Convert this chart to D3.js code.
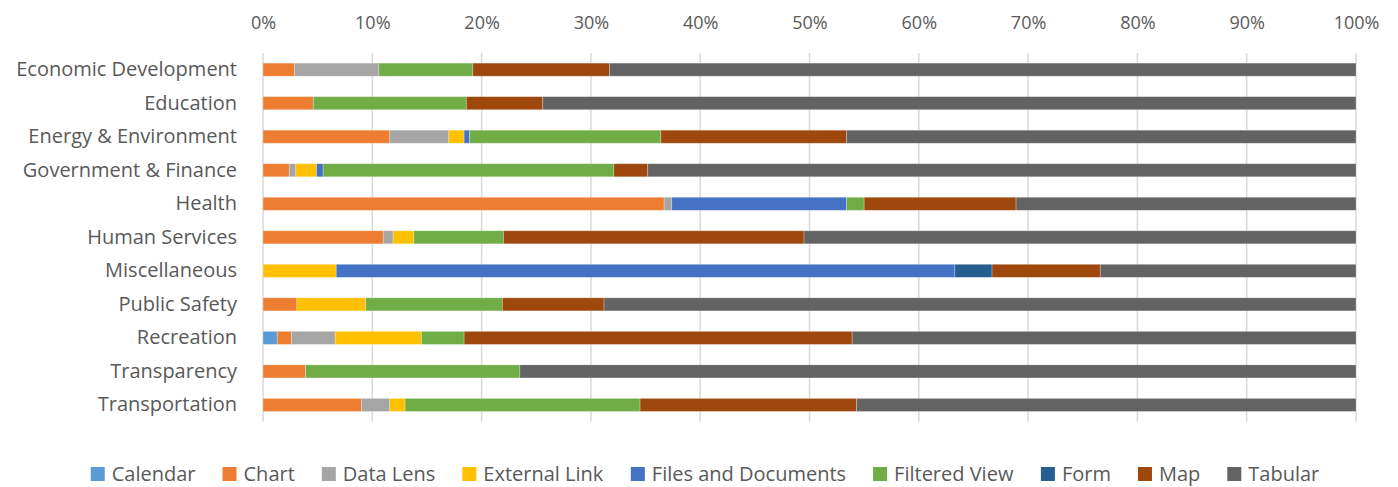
<!DOCTYPE html>
<html>
<head>
<meta charset="utf-8">
<script src="https://cdn.jsdelivr.net/npm/d3@7"></script>
<style>
  body { margin: 0; background: #fff; }
  text { font-family: "Open Sans", sans-serif; fill: #595959; }
</style>
</head>
<body>
<script>
var categories = ["Economic Development", "Education", "Energy & Environment", "Government & Finance",
  "Health", "Human Services", "Miscellaneous", "Public Safety", "Recreation", "Transparency", "Transportation"];

var seriesNames = ["Calendar", "Chart", "Data Lens", "External Link", "Files and Documents",
  "Filtered View", "Form", "Map", "Tabular"];
var seriesColors = ["#5B9BD5", "#ED7D31", "#A5A5A5", "#FFC000", "#4472C4", "#70AD47", "#255E91", "#9E480E", "#636363"];

// percent of each category
var calendar     = [0, 0, 0, 0, 0, 0, 0, 0, 1.3, 0, 0];
var chart        = [2.9, 4.6, 11.6, 2.4, 36.7, 11.0, 0, 3.1, 1.3, 3.9, 9.0];
var dataLens     = [7.7, 0, 5.4, 0.6, 0.7, 0.9, 0, 0, 4.0, 0, 2.6];
var externalLink = [0, 0, 1.4, 1.9, 0, 1.9, 6.7, 6.3, 7.9, 0, 1.4];
var filesDocs    = [0, 0, 0.5, 0.6, 16.0, 0, 56.6, 0, 0, 0, 0];
var filteredView = [8.6, 14.0, 17.5, 26.6, 1.6, 8.2, 0, 12.5, 3.9, 19.6, 21.5];
var form         = [0, 0, 0, 0, 0, 0, 3.4, 0, 0, 0, 0];
var map          = [12.5, 7.0, 17.0, 3.1, 13.9, 27.5, 9.9, 9.3, 35.5, 0, 19.8];
var tabular      = [68.3, 74.4, 46.6, 64.8, 31.1, 50.5, 23.4, 68.8, 46.1, 76.5, 45.7];

var tickValues = [0, 0.1, 0.2, 0.3, 0.4, 0.5, 0.6, 0.7, 0.8, 0.9, 1];

var seriesValues = [calendar, chart, dataLens, externalLink, filesDocs, filteredView, form, map, tabular];

// rows for d3.stack
var rows = categories.map(function(c, i) {
  var r = { category: c };
  seriesNames.forEach(function(s, j) { r[s] = seriesValues[j][i]; });
  return r;
});

var width = 1398, height = 487;

var svg = d3.select("body").append("svg")
  .attr("width", width)
  .attr("height", height);

var x = d3.scaleLinear().domain([0, 1]).range([263, 1356]);
var y = d3.scaleBand().domain(categories).range([52.9, 421.7])
  .paddingInner(0.61).paddingOuter(0.305);

var color = d3.scaleOrdinal().domain(seriesNames).range(seriesColors);

var stacked = d3.stack().keys(seriesNames).offset(d3.stackOffsetExpand)(rows);

// gridlines
svg.append("g")
  .selectAll("line")
  .data(tickValues)
  .enter().append("line")
  .attr("x1", function(d) { return x(d); })
  .attr("x2", function(d) { return x(d); })
  .attr("y1", 52.9)
  .attr("y2", 421.7)
  .attr("stroke", "#d9d9d9")
  .attr("stroke-width", 1.5);

// top axis
var xAxis = svg.append("g")
  .attr("transform", "translate(0,40)")
  .call(d3.axisTop(x).tickValues(tickValues).tickFormat(d3.format(".0%")).tickSize(0).tickPadding(11));
xAxis.select(".domain").remove();
xAxis.selectAll("text").attr("font-size", 18).style("font-family", "\"Open Sans\", sans-serif").attr("fill", "#595959");

// bars
svg.append("g")
  .selectAll("g")
  .data(stacked)
  .enter().append("g")
  .attr("fill", function(d) { return color(d.key); })
  .selectAll("rect")
  .data(function(d) { return d; })
  .enter().append("rect")
  .attr("x", function(d) { return x(d[0]); })
  .attr("y", function(d) { return y(d.data.category); })
  .attr("width", function(d) { return x(d[1]) - x(d[0]); })
  .attr("height", y.bandwidth())
  .attr("stroke", "#fff")
  .attr("stroke-opacity", 0.35)
  .attr("stroke-width", 0.75);

// category labels
var yAxis = svg.append("g")
  .attr("transform", "translate(263,0)")
  .call(d3.axisLeft(y).tickSize(0).tickPadding(26));
yAxis.select(".domain").remove();
yAxis.selectAll("text").attr("font-size", 20).style("font-family", "\"Open Sans\", sans-serif").attr("fill", "#595959");

// legend
var legend = svg.append("g").attr("transform", "translate(0,474)");
var items = legend.selectAll("g")
  .data(seriesNames)
  .enter().append("g");
items.append("rect")
  .attr("width", 14).attr("height", 14).attr("y", -7)
  .attr("fill", function(d) { return color(d); });
items.append("text")
  .attr("x", 21).attr("dy", "0.35em")
  .attr("font-size", 20)
  .text(function(d) { return d; });

var pos = 0, gap = 27, widths = [];
items.each(function() { widths.push(this.getBBox().width); });
var total = d3.sum(widths) + gap * (widths.length - 1);
var start = 705 - total / 2;
items.attr("transform", function(d, i) {
  var tx = start + pos;
  pos += widths[i] + gap;
  return "translate(" + tx + ",0)";
});
</script>
</body>
</html>
